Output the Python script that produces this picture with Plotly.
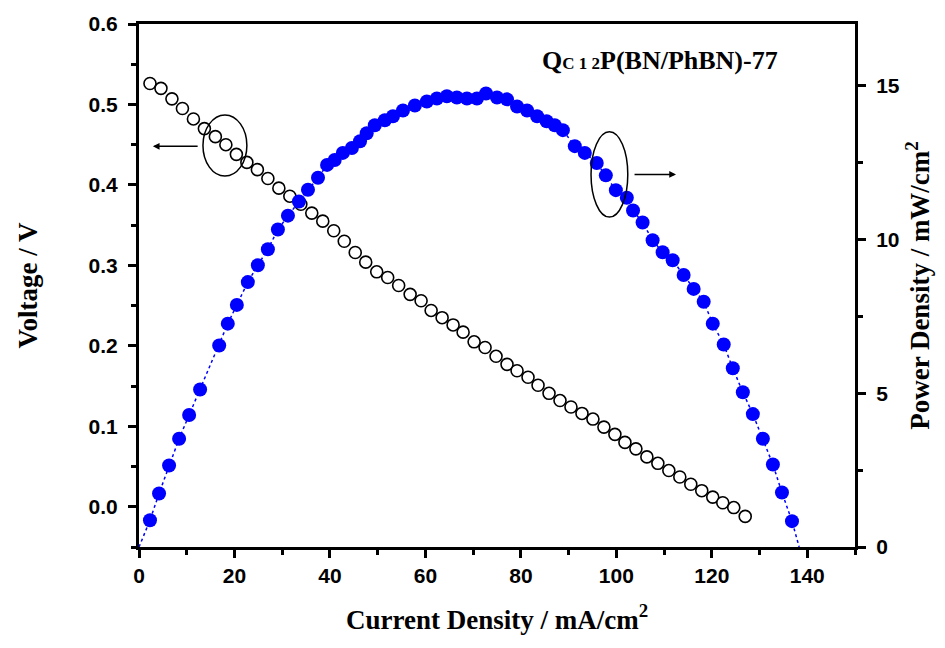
import plotly.graph_objects as go

# Polarization curve: current density (mA/cm2) vs cell voltage (V)
current_v = [2.3, 4.6, 6.9, 9.1, 11.4, 13.7, 16.0, 18.2, 20.4, 22.6,
             24.8, 27.0, 29.3, 31.6, 33.9, 36.2, 38.5, 40.8, 43.0, 45.3,
             47.5, 49.8, 52.1, 54.4, 56.8, 59.1, 61.2, 63.5, 65.8, 67.9,
             70.2, 72.5, 74.8, 77.1, 79.2, 81.5, 83.6, 85.9, 88.2, 90.5,
             92.8, 95.1, 97.4, 99.7, 101.8, 104.1, 106.4, 108.7, 111.0, 113.3,
             115.6, 117.9, 120.2, 122.3, 124.6, 127.0]
voltage = [0.526, 0.520, 0.507, 0.495, 0.482, 0.470, 0.460, 0.450, 0.438, 0.428,
           0.419, 0.408, 0.396, 0.386, 0.376, 0.365, 0.355, 0.343, 0.330, 0.316,
           0.304, 0.292, 0.285, 0.275, 0.264, 0.256, 0.244, 0.235, 0.226, 0.217,
           0.205, 0.198, 0.187, 0.177, 0.169, 0.161, 0.151, 0.141, 0.132, 0.124,
           0.116, 0.109, 0.099, 0.090, 0.080, 0.072, 0.062, 0.054, 0.045, 0.037,
           0.028, 0.020, 0.012, 0.005, -0.001, -0.012]

# Power density curve: current density (mA/cm2) vs power density (mW/cm2)
current_p = [0, 2.3, 4.2, 6.3, 8.4, 10.5, 12.8, 16.8, 18.6, 20.5,
             22.8, 24.9, 27.0, 29.1, 31.2, 33.5, 35.4, 37.5, 39.4, 41.0,
             42.7, 44.6, 46.3, 47.7, 49.4, 51.5, 53.2, 55.3, 57.8, 60.3,
             62.4, 64.5, 66.6, 68.7, 70.8, 72.7, 75.0, 77.1, 79.2, 81.3,
             83.4, 85.4, 87.1, 88.8, 91.3, 93.4, 95.9, 97.8, 99.9, 102.2,
             103.5, 105.5, 107.6, 109.7, 111.8, 114.1, 116.2, 118.3, 120.2, 122.5,
             124.4, 126.5, 128.6, 130.7, 132.8, 134.7, 136.8, 138.3]
power = [0, 0.87, 1.74, 2.65, 3.52, 4.29, 5.12, 6.55, 7.26, 7.87,
         8.61, 9.16, 9.68, 10.32, 10.77, 11.23, 11.61, 12.0, 12.42, 12.58,
         12.81, 12.97, 13.19, 13.45, 13.71, 13.87, 14.0, 14.19, 14.35, 14.48,
         14.58, 14.65, 14.61, 14.58, 14.58, 14.74, 14.61, 14.55, 14.32, 14.19,
         14.0, 13.84, 13.71, 13.55, 13.03, 12.81, 12.48, 12.08, 11.6, 11.35,
         10.94, 10.55, 9.97, 9.58, 9.32, 8.84, 8.39, 7.97, 7.26, 6.58,
         5.81, 5.03, 4.32, 3.52, 2.68, 1.77, 0.84, 0.0]

x_ticks = [0, 20, 40, 60, 80, 100, 120, 140]
v_ticks = [0.0, 0.1, 0.2, 0.3, 0.4, 0.5, 0.6]
p_ticks = [0, 5, 10, 15]

SERIF = "Liberation Serif, Times New Roman, serif"
SANS = "Liberation Sans, Arial, sans-serif"
BLUE = "#0000FF"

# the dotted trend reaches zero at both ends without a symbol there
p_sizes = [0] + [14] * (len(power) - 2) + [0]

fig = go.Figure()

fig.add_trace(go.Scatter(
    x=current_v, y=voltage, mode="markers", yaxis="y",
    marker=dict(symbol="circle", size=12, color="white", opacity=1,
                line=dict(color="black", width=1.6)),
    showlegend=False,
))

fig.add_trace(go.Scatter(
    x=current_p, y=power, mode="lines+markers", yaxis="y2",
    line=dict(color=BLUE, width=1.5, dash="dot"),
    marker=dict(symbol="circle", size=p_sizes, color=BLUE, opacity=1,
                line=dict(width=0)),
    showlegend=False,
))

axis_common = dict(
    showline=True, linewidth=3, linecolor="black",
    ticks="outside", ticklen=8, tickwidth=3, tickcolor="black",
    showgrid=False, zeroline=False,
    tickfont=dict(family=SANS, size=21, color="black", weight="bold"),
)
title_font = dict(family=SERIF, size=27, color="black", weight="bold")

fig.update_layout(
    width=945, height=648,
    margin=dict(l=139, r=90, t=20, b=101),
    plot_bgcolor="white", paper_bgcolor="white",
    xaxis=dict(
        **axis_common, range=[0, 150], tickvals=x_ticks, mirror=True,
        minor=dict(ticks="outside", ticklen=5, tickwidth=3, dtick=10, tick0=0),
        title=dict(text="Current Density / mA/cm<sup>2</sup>", font=title_font,
                   standoff=24),
    ),
    yaxis=dict(
        **axis_common, range=[-0.05, 0.6], tickvals=v_ticks, tickformat=".1f",
        ticklabelstandoff=6,
        minor=dict(ticks="outside", ticklen=5, tickwidth=3, dtick=0.05, tick0=0),
        title=dict(text="Voltage / V", font=title_font, standoff=44),
    ),
    yaxis2=dict(
        **axis_common, range=[0, 17], tickvals=p_ticks, overlaying="y", side="right",
        ticklabelstandoff=6,
        minor=dict(ticks="outside", ticklen=5, tickwidth=3, dtick=2.5, tick0=0),
        title=dict(text="Power Density / mW/cm<sup>2</sup>", font=title_font,
                   standoff=12),
    ),
)

# Sample label
fig.add_annotation(
    xref="paper", yref="paper", x=0.728, y=0.93, xanchor="center", yanchor="middle",
    showarrow=False,
    text="Q<span style='font-size:17px'>C 1 2</span>P(BN/PhBN)-77",
    font=dict(family=SERIF, size=26, color="black", weight="bold"),
)

# Ellipses marking which curve belongs to which axis
fig.add_shape(type="circle", xref="x", yref="y", x0=13.4, x1=22.6, y0=0.411, y1=0.487,
              line=dict(color="black", width=1.5))
fig.add_shape(type="circle", xref="x", yref="y", x0=94.7, x1=102.4, y0=0.360, y1=0.466,
              line=dict(color="black", width=1.5))

fig.add_annotation(x=2.9, y=0.448, ax=12.6, ay=0.448, xref="x", yref="y",
                   axref="x", ayref="y", showarrow=True, arrowhead=2,
                   arrowsize=0.9, arrowwidth=1.5, arrowcolor="black", text="")
fig.add_annotation(x=112.5, y=0.413, ax=103.5, ay=0.413, xref="x", yref="y",
                   axref="x", ayref="y", showarrow=True, arrowhead=2,
                   arrowsize=0.9, arrowwidth=1.5, arrowcolor="black", text="")

fig.write_html("out.html")
